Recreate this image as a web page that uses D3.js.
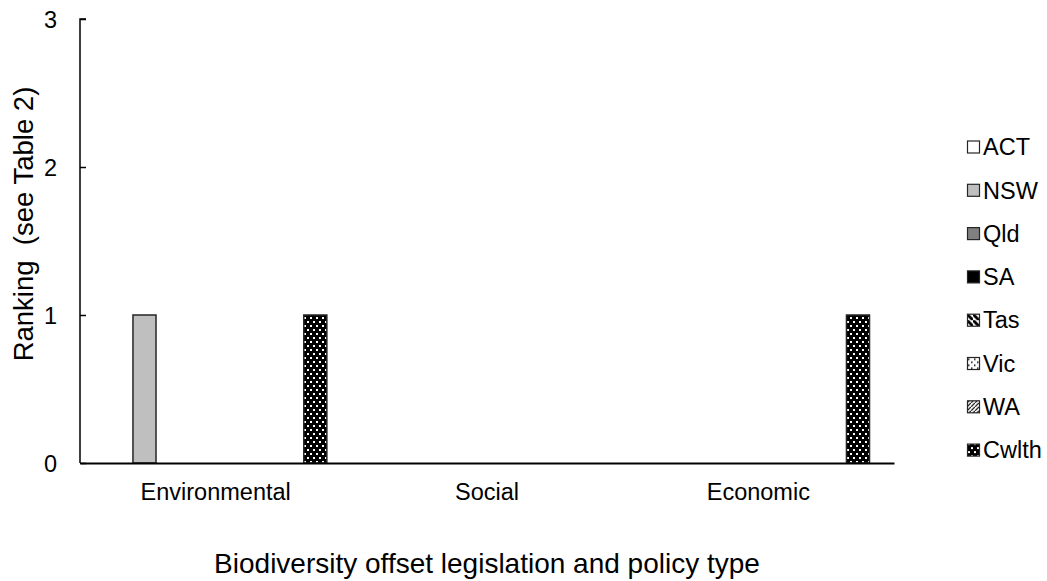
<!DOCTYPE html>
<html>
<head>
<meta charset="utf-8">
<script src="https://cdn.jsdelivr.net/npm/d3@7"></script>
<style>
  body { margin: 0; background: #fff; }
  svg text { font-family: "Liberation Sans", Arial, sans-serif; fill: #000; }
</style>
</head>
<body>
<div id="chart"></div>
<script>
// chart data
const categories = ["Environmental", "Social", "Economic"];
const seriesNames = ["ACT", "NSW", "Qld", "SA", "Tas", "Vic", "WA", "Cwlth"];
const ACT   = [0, 0, 0];
const NSW   = [1, 0, 0];
const Qld   = [0, 0, 0];
const SA    = [0, 0, 0];
const Tas   = [0, 0, 0];
const Vic   = [0, 0, 0];
const WA    = [0, 0, 0];
const Cwlth = [1, 0, 1];
const yTicks = [0, 1, 2, 3];

const seriesValues = { ACT, NSW, Qld, SA, Tas, Vic, WA, Cwlth };

const width = 1047;
const height = 581;
const margin = { top: 19, right: 153, bottom: 118, left: 80 };

const svg = d3.select('#chart')
    .append('svg')
    .attr('width', width)
    .attr('height', height);

// fill patterns for the hatched series
const defs = svg.append('defs');

const tas = defs.append('pattern').attr('id', 'p-Tas')
    .attr('width', 6).attr('height', 6).attr('patternUnits', 'userSpaceOnUse');
tas.append('rect').attr('width', 6).attr('height', 6).attr('fill', '#fff');
tas.append('path').attr('d', 'M0,0 L2,0 L6,4 L6,6 L4,6 L0,2 Z').attr('fill', '#000');

const vic = defs.append('pattern').attr('id', 'p-Vic')
    .attr('width', 6).attr('height', 6).attr('patternUnits', 'userSpaceOnUse');
vic.append('rect').attr('width', 6).attr('height', 6).attr('fill', '#fff');
vic.append('rect').attr('x', 1).attr('y', 1).attr('width', 1.5).attr('height', 1.5).attr('fill', '#000');
vic.append('rect').attr('x', 4).attr('y', 4).attr('width', 1.5).attr('height', 1.5).attr('fill', '#000');

const wa = defs.append('pattern').attr('id', 'p-WA')
    .attr('width', 4).attr('height', 4).attr('patternUnits', 'userSpaceOnUse');
wa.append('rect').attr('width', 4).attr('height', 4).attr('fill', '#fff');
wa.append('path').attr('d', 'M-1,5 L5,-1').attr('stroke', '#000').attr('stroke-width', 1.2);

const cw = defs.append('pattern').attr('id', 'p-Cwlth')
    .attr('width', 6).attr('height', 8).attr('patternUnits', 'userSpaceOnUse');
cw.append('rect').attr('width', 6).attr('height', 8).attr('fill', '#000');
cw.append('rect').attr('x', 1).attr('y', 1).attr('width', 2).attr('height', 2).attr('fill', '#fff');
cw.append('rect').attr('x', 4).attr('y', 5).attr('width', 2).attr('height', 2).attr('fill', '#fff');

const fills = {
    ACT: '#fff', NSW: '#bfbfbf', Qld: '#808080', SA: '#000',
    Tas: 'url(#p-Tas)', Vic: 'url(#p-Vic)', WA: 'url(#p-WA)', Cwlth: 'url(#p-Cwlth)'
};

// scales
const x0 = d3.scaleBand()
    .domain(categories)
    .range([margin.left, width - margin.right])
    .padding(0);

const x1 = d3.scaleBand()
    .domain(seriesNames)
    .range([0, x0.bandwidth()])
    .paddingInner(0.19)
    .paddingOuter(0.86);

const y = d3.scaleLinear()
    .domain([0, 3])
    .range([height - margin.bottom, margin.top]);

// bars
const rows = [];
categories.forEach((c, i) => {
    seriesNames.forEach(s => rows.push({ cat: c, series: s, value: seriesValues[s][i] }));
});

svg.append('g')
    .selectAll('rect')
    .data(rows.filter(d => d.value > 0))
    .enter()
    .append('rect')
    .attr('x', d => x0(d.cat) + x1(d.series))
    .attr('y', d => y(d.value))
    .attr('width', x1.bandwidth())
    .attr('height', d => y(0) - y(d.value))
    .attr('fill', d => fills[d.series])
    .attr('stroke', '#262626')
    .attr('stroke-width', 1.5);

// y axis
const yAxis = svg.append('g')
    .attr('transform', `translate(${margin.left},0)`)
    .call(d3.axisRight(y).tickValues(yTicks).tickSize(6).tickFormat(d3.format('d')));
yAxis.selectAll('path, line').attr('stroke', '#000').attr('stroke-width', 1.5);
yAxis.select('.domain').attr('d', `M6,${y(3)}H0V${y(0)}`);
yAxis.selectAll('text')
    .attr('x', -23)
    .attr('text-anchor', 'end')
    .attr('dy', '0.35em')
    .style('font-size', '23.5px');

// x axis
const xAxis = svg.append('g')
    .attr('transform', `translate(0,${y(0)})`)
    .call(d3.axisBottom(x0).tickSize(0).tickPadding(20));
xAxis.select('.domain').attr('stroke', '#000').attr('stroke-width', 2.2);
xAxis.selectAll('text').style('font-size', '23.5px');

// axis titles
svg.append('text')
    .attr('x', (margin.left + width - margin.right) / 2)
    .attr('y', 573)
    .attr('text-anchor', 'middle')
    .style('font-size', '28px')
    .text('Biodiversity offset legislation and policy type');

svg.append('text')
    .attr('transform', `translate(33,224) rotate(-90)`)
    .attr('text-anchor', 'middle')
    .style('font-size', '27.5px')
    .style('white-space', 'pre')
    .text('Ranking  (see Table 2)');

// legend
const legend = svg.append('g')
    .attr('transform', `translate(967,147)`);

const item = legend.selectAll('g')
    .data(seriesNames)
    .enter()
    .append('g')
    .attr('transform', (d, i) => `translate(0,${i * 43.3})`);

item.append('rect')
    .attr('x', 0.5)
    .attr('y', -6)
    .attr('width', 12)
    .attr('height', 12)
    .attr('fill', d => fills[d])
    .attr('stroke', '#262626')
    .attr('stroke-width', 1.2);

item.append('text')
    .attr('x', 16)
    .attr('dy', '0.35em')
    .style('font-size', '23.5px')
    .text(d => d);
</script>
</body>
</html>
